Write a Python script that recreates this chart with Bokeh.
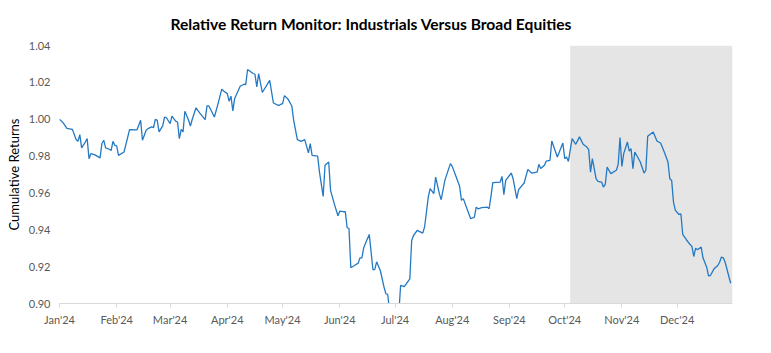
import pandas as pd
from bokeh.plotting import figure
from bokeh.models import (BoxAnnotation, Range1d, MonthsTicker, DatetimeTickFormatter,
                          FixedTicker, NumeralTickFormatter, Title)
from bokeh.embed import file_html
from bokeh.resources import INLINE

title_text = "Relative Return Monitor: Industrials Versus Broad Equities"
y_label = "Cumulative Returns"
y_ticks = [0.90, 0.92, 0.94, 0.96, 0.98, 1.00, 1.02, 1.04]
shade_start = "2024-10-04"

# days since 2024-01-01 and cumulative relative return
days = [0, 2, 4, 7, 9, 10, 11, 12, 14, 15, 16, 17, 19, 22, 23, 24, 25, 27, 28, 29, 30, 31, 32, 35, 38, 42,
        44, 45, 47, 48, 50, 51, 52, 53, 54, 56, 57, 58, 60, 61, 63, 64, 65, 66, 67, 68, 70, 71, 72, 74, 76,
        79, 80, 81, 84, 86, 88, 89, 91, 92, 93, 94, 95, 98, 100, 101, 102, 105, 106, 107, 108, 110, 114,
        116, 119, 120, 121, 122, 124, 126, 127, 129, 131, 133, 135, 136, 137, 140, 141, 143, 144, 146,
        147, 149, 151, 152, 154, 155, 156, 157, 158, 160, 162, 163, 164, 165, 166, 168, 170, 171, 172,
        174, 176, 177, 178, 179, 181, 184, 185, 187, 190, 191, 192, 194, 197, 198, 200, 201, 203, 204,
        206, 207, 209, 212, 213, 215, 217, 218, 219, 221, 223, 225, 226, 227, 229, 232, 233, 234, 235,
        239, 240, 241, 242, 245, 246, 248, 249, 252, 254, 256, 259, 260, 261, 263, 264, 266, 267, 270,
        273, 274, 275, 276, 278, 280, 282, 284, 286, 287, 288, 289, 291, 292, 294, 295, 296, 297, 299,
        302, 303, 304, 305, 306, 308, 309, 310, 311, 312, 315, 317, 318, 319, 322, 324, 326, 328, 330,
        331, 332, 333, 334, 336, 337, 338, 340, 342, 343, 344, 345, 346, 348, 349, 351, 352, 353, 355,
        357, 358, 359, 360, 361, 364]
values = [1.000, 0.998, 0.995, 0.9945, 0.989, 0.988, 0.9916, 0.9844, 0.9876, 0.9895, 0.9786, 0.9813,
          0.9808, 0.979, 0.9868, 0.9886, 0.9844, 0.9837, 0.983, 0.988, 0.9858, 0.9855, 0.9804, 0.9822,
          0.9944, 0.9942, 0.9994, 0.9886, 0.994, 0.9949, 0.9958, 0.9955, 1.000, 0.9994, 0.9931, 0.9965,
          1.0012, 1.0008, 0.9976, 1.0017, 0.999, 0.9985, 0.9895, 0.9945, 0.9931, 1.0043, 0.9994, 0.9963,
          1.000, 1.0061, 1.0034, 0.9998, 1.0072, 1.0072, 1.0012, 1.0085, 1.0163, 1.0153, 1.0139, 1.0097,
          1.0125, 1.0045, 1.0112, 1.0179, 1.019, 1.0188, 1.027, 1.0248, 1.0244, 1.0175, 1.0248, 1.0145,
          1.0211, 1.0088, 1.0074, 1.0081, 1.0085, 1.0128, 1.0108, 1.0072, 0.9994, 0.9889, 0.988, 0.9889,
          0.9817, 0.9868, 0.9804, 0.98, 0.9713, 0.9581, 0.975, 0.9768, 0.9614, 0.9542, 0.9476, 0.9501,
          0.9498, 0.9498, 0.9411, 0.9407, 0.9194, 0.9206, 0.9219, 0.9248, 0.9248, 0.9303, 0.9328, 0.9375,
          0.9183, 0.9185, 0.9226, 0.9179, 0.9089, 0.9053, 0.9049, 0.896, 0.890, 0.894, 0.9098, 0.9092,
          0.9134, 0.9342, 0.9369, 0.9397, 0.9382, 0.9415, 0.9577, 0.9623, 0.9596, 0.9686, 0.9596, 0.9563,
          0.9668, 0.9759, 0.9744, 0.969, 0.9636, 0.956, 0.9569, 0.9514, 0.946, 0.9469, 0.9523, 0.9514,
          0.952, 0.9523, 0.9514, 0.9581, 0.9656, 0.9659, 0.969, 0.959, 0.9668, 0.9708, 0.9678, 0.9569,
          0.9618, 0.9654, 0.9728, 0.9708, 0.9713, 0.9755, 0.9732, 0.975, 0.9773, 0.9777, 0.9882, 0.9795,
          0.9871, 0.9786, 0.9795, 0.9771, 0.9895, 0.9864, 0.9904, 0.9864, 0.9849, 0.9835, 0.9713, 0.9786,
          0.9677, 0.9663, 0.9659, 0.9632, 0.9646, 0.974, 0.9705, 0.9723, 0.9755, 0.99, 0.9744, 0.9813,
          0.9876, 0.9827, 0.984, 0.9732, 0.9822, 0.9768, 0.9708, 0.9723, 0.9907, 0.9931, 0.9882, 0.9871,
          0.9822, 0.9768, 0.9677, 0.9668, 0.955, 0.9505, 0.9483, 0.9487, 0.9375, 0.9346, 0.932, 0.931,
          0.9255, 0.93, 0.9292, 0.9306, 0.9248, 0.9197, 0.915, 0.9152, 0.9188, 0.9206, 0.9224, 0.9252,
          0.9248, 0.9224, 0.911]

dates = pd.Timestamp("2024-01-01") + pd.to_timedelta(days, unit="D")

FONT = "Lato"

p = figure(width=771, height=353, x_axis_type="datetime", output_backend="svg",
           toolbar_location=None,
           x_range=Range1d(pd.Timestamp("2024-01-01"), pd.Timestamp("2024-12-31")),
           y_range=Range1d(0.90, 1.04),
           min_border_left=59, min_border_right=39, min_border_top=45, min_border_bottom=50)
p.title = None
p.add_layout(Title(text=title_text, align="left", offset=111, standoff=25, text_font=FONT,
                   text_font_size="15.6px", text_font_style="bold", text_color="#000000"), "above")

p.outline_line_color = None
p.xgrid.grid_line_color = None
p.ygrid.grid_line_color = None
p.background_fill_color = "white"
p.border_fill_color = "white"

shade = BoxAnnotation(left=pd.Timestamp(shade_start), right=pd.Timestamp("2024-12-31"),
                      fill_color="#e5e5e5", fill_alpha=1.0, line_color=None, level="underlay")
p.add_layout(shade)

p.line(dates, values, line_color="#2479c4", line_width=1.3)

xa = p.xaxis[0]
xa.ticker = MonthsTicker(months=list(range(12)))
xa.formatter = DatetimeTickFormatter(months="%b'%y", days="%b'%y")
xa.axis_line_color = "#d9d9d9"
xa.major_tick_line_color = "#d9d9d9"
xa.major_tick_out = 4
xa.major_tick_in = 0
xa.minor_tick_line_color = None
xa.major_label_text_font = FONT
xa.major_label_text_font_size = "11px"
xa.major_label_text_color = "#595959"
xa.major_label_standoff = 5

ya = p.yaxis[0]
ya.ticker = FixedTicker(ticks=y_ticks)
ya.formatter = NumeralTickFormatter(format="0.00")
ya.axis_line_color = None
ya.major_tick_line_color = None
ya.major_tick_out = 0
ya.major_tick_in = 0
ya.minor_tick_line_color = None
ya.minor_tick_out = 0
ya.major_label_text_font = FONT
ya.major_label_text_font_size = "11px"
ya.major_label_text_color = "#595959"
ya.major_label_standoff = 9
ya.axis_label = y_label
ya.axis_label_text_font = FONT
ya.axis_label_text_font_size = "13px"
ya.axis_label_text_font_style = "normal"
ya.axis_label_text_color = "#000000"
ya.axis_label_standoff = 4

open("out.html", "w").write(file_html(p, INLINE))
